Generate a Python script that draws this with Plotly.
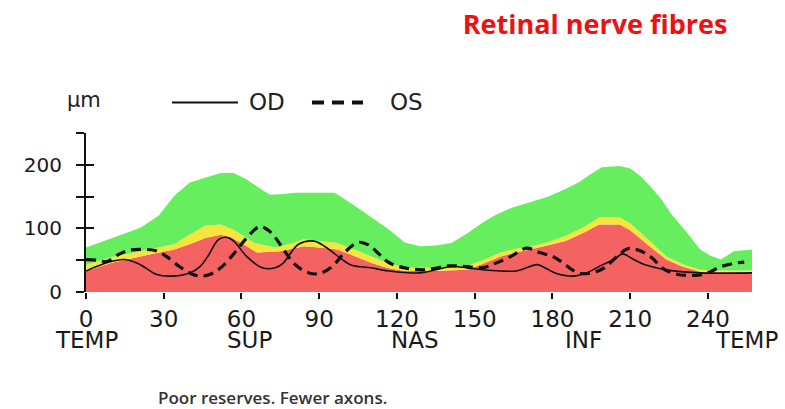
import plotly.graph_objects as go

# ---- data ----
green_x = [0, 10, 21, 28, 34, 40, 46, 52, 57, 62, 67, 71, 76, 81, 90, 96, 104, 111, 117, 123, 129, 135, 141, 147, 153, 158, 164, 172, 179, 185, 190, 195, 199, 206, 210, 214, 218, 222, 226, 231, 237, 241, 245, 250, 257]
green_y = [70, 85, 101, 120, 151, 172, 180, 187, 187, 177, 163, 153, 154, 156, 156, 156, 135, 115, 98, 78, 72, 73, 77, 92, 109, 121, 132, 142, 151, 162, 172, 186, 196, 198, 194, 182, 165, 146, 122, 98, 67, 57, 51, 64, 67]

yellow_x = [0, 10, 21, 28, 34, 40, 46, 52, 57, 62, 65, 73, 79, 84, 90, 97, 104, 110, 116, 123, 129, 137, 147, 153, 160, 166, 172, 178, 185, 192, 198, 206, 210, 214, 219, 224, 230, 237, 245, 257]
yellow_y = [43, 55, 64, 70, 75, 90, 104, 106, 98, 85, 77, 70, 76, 83, 80, 77, 66, 56, 46, 38, 38, 38, 41, 50, 62, 68, 72, 78, 88, 102, 117, 117, 108, 93, 75, 56, 44, 35, 34, 34]

red_x = [0, 10, 21, 28, 34, 40, 46, 52, 56, 60, 66, 75, 84, 90, 97, 104, 110, 116, 123, 134, 147, 153, 160, 166, 172, 178, 185, 192, 198, 206, 210, 214, 219, 224, 230, 237, 245, 257]
red_y = [33, 46, 56, 62, 67, 75, 85, 90, 86, 77, 62, 64, 72, 70, 67, 56, 46, 38, 33, 33, 35, 44, 56, 62, 67, 73, 80, 93, 106, 106, 97, 83, 67, 51, 40, 32, 32, 32]

od_x = [0, 4, 8, 15, 21, 27, 33, 40, 44, 47, 51, 54, 57, 62, 68, 73, 76, 82, 88, 92, 96, 102, 110, 117, 129, 135, 141, 147, 153, 160, 166, 170, 174, 178, 181, 188, 193, 199, 204, 207, 211, 215, 220, 225, 237, 257]
od_y = [33, 40, 46, 51, 43, 28, 25, 30, 40, 56, 82, 86, 80, 56, 38, 38, 45, 75, 80, 72, 60, 43, 38, 33, 30, 35, 40, 38, 35, 33, 33, 38, 43, 36, 30, 25, 30, 42, 52, 60, 52, 44, 38, 34, 30, 30]

os_x = [0, 4, 8, 13, 17, 22, 27, 31, 36, 40, 44, 48, 52, 57, 62, 67, 70, 73, 77, 81, 86, 90, 95, 100, 105, 109, 113, 117, 123, 131, 140, 147, 153, 158, 164, 170, 175, 180, 184, 188, 191, 196, 200, 205, 209, 213, 218, 223, 228, 233, 237, 241, 245, 250, 254]
os_y = [51, 50, 48, 60, 66, 67, 65, 56, 40, 30, 25, 28, 38, 60, 85, 103, 98, 86, 62, 42, 30, 29, 40, 63, 78, 74, 60, 46, 38, 35, 41, 40, 38, 45, 56, 69, 62, 56, 46, 34, 29, 31, 38, 56, 68, 66, 55, 36, 28, 26, 27, 32, 40, 45, 47]

x_ticks = [0, 30, 60, 90, 120, 150, 180, 210, 240]
y_ticks = [0, 50, 100, 150, 200, 250]
y_tick_text = ["0", "", "100", "", "200", ""]
quadrant_labels = ["TEMP", "SUP", "NAS", "INF", "TEMP"]
quadrant_pos = [0, 63, 127, 192, 255]

RED = "#F46262"
YELLOW = "#F6E63C"
GREEN = "#66EE5E"
INK = "#111111"
FONT = "DejaVu Sans, Verdana, sans-serif"

fig = go.Figure()
fig.add_trace(go.Scatter(x=red_x, y=red_y, fill="tozeroy", fillcolor=RED,
                         mode="lines", line=dict(width=0, color=RED), showlegend=False, hoverinfo="skip"))
fig.add_trace(go.Scatter(x=yellow_x, y=yellow_y, fill="tonexty", fillcolor=YELLOW,
                         mode="lines", line=dict(width=0, color=YELLOW), showlegend=False, hoverinfo="skip"))
fig.add_trace(go.Scatter(x=green_x, y=green_y, fill="tonexty", fillcolor=GREEN,
                         mode="lines", line=dict(width=0, color=GREEN), showlegend=False, hoverinfo="skip"))
fig.add_trace(go.Scatter(x=od_x, y=od_y, mode="lines", name="OD", showlegend=False,
                         line=dict(color=INK, width=1.6, shape="spline")))
fig.add_trace(go.Scatter(x=os_x, y=os_y, mode="lines", name="OS", showlegend=False,
                         line=dict(color=INK, width=3.2, dash="10px,6px", shape="spline")))
# dummy trace to activate the inside-tick overlay axis
fig.add_trace(go.Scatter(x=[None], y=[None], yaxis="y2", showlegend=False, hoverinfo="skip"))

fig.update_layout(
    width=785, height=409,
    margin=dict(l=86, r=33, t=133, b=117),
    paper_bgcolor="white", plot_bgcolor="white",
    showlegend=False,
    title=dict(text="<b>Retinal nerve fibres</b>", x=0.758, y=0.94, xanchor="center", yanchor="middle",
               font=dict(family="Open Sans, sans-serif", size=27, color="#EE1111")),
    xaxis=dict(range=[0, 257], showgrid=False, zeroline=False, showline=False,
               tickmode="array", tickvals=x_ticks, ticktext=[str(v) for v in x_ticks],
               ticks="outside", ticklen=6, tickwidth=2, tickcolor=INK,
               tickfont=dict(family=FONT, size=23, color="#1a1a1a")),
    yaxis=dict(range=[0, 250], showgrid=False, zeroline=False, showline=True, linecolor=INK, linewidth=2,
               tickmode="array", tickvals=y_ticks, ticktext=y_tick_text,
               ticks="outside", ticklen=8, tickwidth=2, tickcolor=INK,
               tickfont=dict(family=FONT, size=20, color="#1a1a1a"), ticklabelstandoff=10),
    yaxis2=dict(range=[0, 250], overlaying="y", side="left", showgrid=False, zeroline=False, showline=False,
                tickmode="array", tickvals=y_ticks, ticktext=["" for _ in y_ticks],
                ticks="inside", ticklen=8, tickwidth=2, tickcolor=INK),
)

# category labels under the angle ticks
for lab, pos in zip(quadrant_labels, quadrant_pos):
    fig.add_annotation(x=pos, y=-0.30, xref="x", yref="paper", text=lab, showarrow=False,
                       xanchor="center", yanchor="middle",
                       font=dict(family=FONT, size=23, color="#1a1a1a"))

# unit label
fig.add_annotation(x=-0.003, y=1.21, xref="paper", yref="paper", text="µm", showarrow=False,
                   xanchor="center", yanchor="middle", font=dict(family=FONT, size=21, color="#222222"))

# legend (line samples + labels)
legend_y = 1.192
fig.add_shape(type="line", xref="paper", yref="paper", x0=0.1291, x1=0.2282, y0=legend_y, y1=legend_y,
              line=dict(color=INK, width=2))
fig.add_shape(type="line", xref="paper", yref="paper", x0=0.3393, x1=0.4159, y0=legend_y, y1=legend_y,
              line=dict(color=INK, width=4, dash="12px,8px"))
fig.add_annotation(x=0.2417, y=legend_y, xref="paper", yref="paper", text="OD", showarrow=False,
                   xanchor="left", yanchor="middle", font=dict(family=FONT, size=23, color="#222222"))
fig.add_annotation(x=0.4535, y=legend_y, xref="paper", yref="paper", text="OS", showarrow=False,
                   xanchor="left", yanchor="middle", font=dict(family=FONT, size=23, color="#222222"))

# footer note
fig.add_annotation(x=0.1065, y=-0.74, xref="paper", yref="paper",
                   text="<span style='font-weight:600'>Poor reserves. Fewer axons.</span>",
                   showarrow=False, xanchor="left", yanchor="bottom", borderpad=0,
                   font=dict(family="Open Sans, sans-serif", size=17, color="#333333"))

fig.write_html("out.html", config={"displayModeBar": False},
               post_script="document.body.style.margin='0';")
